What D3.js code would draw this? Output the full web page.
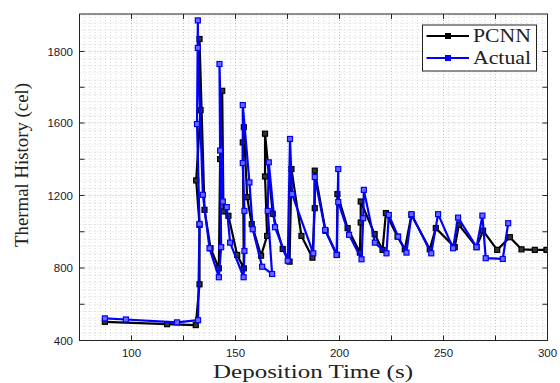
<!DOCTYPE html>
<html><head><meta charset="utf-8">
<script src="https://cdn.jsdelivr.net/npm/d3@7"></script>
<style>html,body{margin:0;padding:0;background:#fff;}svg{display:block;}</style>
</head><body>
<script>
// ---- data ----
const pcnnTime = [87.2,117.1,130.9,132.7,132.7,131.1,133.2,132.7,135.1,138.0,142.0,142.6,143.6,144.2,146.6,150.8,154.0,153.5,154.0,155.6,157.8,162.3,165.2,164.2,164.2,167.9,172.7,176.0,176.9,181.7,187.0,188.1,188.1,193.3,198.8,199.0,203.9,209.8,210.2,210.2,216.9,220.7,222.3,227.9,231.4,234.6,243.4,246.3,255.4,257.4,265.9,269.0,275.8,281.9,287.5,293.9,299.5];
const pcnnTemp = [503,490,485,710,1038,1283,1636,1835,1121,909,798,1401,1690,1112,1088,872,798,1493,1577,1191,1042,868,977,1305,1541,1099,905,835,1346,977,857,1130,1337,1005,872,1208,1020,885,1051,1167,987,900,1103,973,903,1093,903,1020,915,1038,915,1006,900,970,903,900,900];
const actualTime = [87.2,97.3,121.9,132.0,132.7,131.5,131.9,131.9,134.3,137.5,142.0,143.1,142.6,142.3,143.9,145.8,147.4,153.9,154.3,154.3,153.5,153.5,156.7,158.3,162.8,167.6,165.5,166.0,169.0,175.1,176.2,177.2,187.4,188.1,193.1,198.6,199.4,199.4,204.6,210.6,211.4,211.7,217.0,222.6,223.7,228.2,232.2,234.6,244.1,247.4,254.6,257.0,265.9,268.7,270.3,278.5,281.1];
const actualTemp = [522,516,500,512,1043,1594,1887,1810,1204,909,749,915,1448,1765,1167,1136,940,749,894,1115,1379,1650,1272,1014,807,767,1115,1383,1025,840,1512,1208,881,1302,1010,872,1346,1164,983,848,1075,1231,940,881,1093,973,885,1097,881,1097,909,1078,915,1089,854,850,1047];
const seriesNames = ["PCNN","Actual"];
const xTickValues = [100,150,200,250,300];
const xMinorTickValues = [125,175,225,275];
const yTickValues = [400,800,1200,1600,1800];
const yTickLabels = ["400","800","1200","1600","1800"];
const yMinorTickValues = [600,1000,1400,1700];
const xLabel = "Deposition Time (s)";
const yLabel = "Thermal History (cel)";

// ---- layout ----
const W = 560, H = 383;
const L = 79.5, R = 547.5, T = 14, B = 340.5;

const svg = d3.select("body").append("svg").attr("width", W).attr("height", H);

const x = d3.scaleLinear().domain([75, 300]).range([L, R]);
const y = d3.scaleLinear().domain([400, 1600, 1800]).range([B, 123, 51.5]);
const yTop = y.invert(T);

// ---- grid (dotted, MATLAB-style) ----
const grid = svg.append("g");
const gx = d3.range(75, 300.01, 2.5);
grid.selectAll("line.gx").data(gx).join("line")
  .attr("x1", d => x(d)).attr("x2", d => x(d)).attr("y1", T).attr("y2", B)
  .attr("stroke", d => (d % 25 === 0) ? "#b8b8b8" : "#d4d4d4")
  .attr("stroke-width", 0.9).attr("stroke-dasharray", "1,2");
let gy = [];
for (let i = 0; i < yTickValues.length - 1; i++) {
  const a = yTickValues[i], b = yTickValues[i+1];
  for (let k = 0; k < 10; k++) gy.push(a + (b - a) * k / 10);
}
for (let v = 1800; v <= yTop; v += 20) gy.push(v);
grid.selectAll("line.gy").data(gy).join("line")
  .attr("x1", L).attr("x2", R).attr("y1", d => y(d)).attr("y2", d => y(d))
  .attr("stroke", d => yTickValues.includes(d) ? "#b8b8b8" : "#d4d4d4")
  .attr("stroke-width", 0.9).attr("stroke-dasharray", "1,2");

// ---- series ----
const pcnn = pcnnTime.map((t, i) => [t, pcnnTemp[i]]);
const actual = actualTime.map((t, i) => [t, actualTemp[i]]);
const line = d3.line().x(d => x(d[0])).y(d => y(d[1]));
svg.append("clipPath").attr("id", "c").append("rect")
  .attr("x", L).attr("y", T).attr("width", R - L).attr("height", B - T);
const plot = svg.append("g").attr("clip-path", "url(#c)");

function drawSeries(data, color, fill) {
  plot.append("path").datum(data).attr("d", line)
    .attr("fill", "none").attr("stroke", color).attr("stroke-width", 2.2)
    .attr("stroke-linejoin", "round");
  const s = 5;
  plot.append("g").selectAll("rect").data(data).join("rect")
    .attr("x", d => x(d[0]) - s/2).attr("y", d => y(d[1]) - s/2)
    .attr("width", s).attr("height", s)
    .attr("fill", fill).attr("stroke", color).attr("stroke-width", 1.2);
}
drawSeries(pcnn, "#000000", "#333333");
drawSeries(actual, "#0000ff", "#6a6aff");

// ---- frame & ticks (inside) ----
const fr = svg.append("g").attr("stroke", "#222").attr("stroke-width", 1);
fr.append("rect").attr("x", L).attr("y", T).attr("width", R - L).attr("height", B - T).attr("fill", "none");
const tl = 5;
const xt = xTickValues.concat(xMinorTickValues);
fr.selectAll("line.xb").data(xt).join("line").attr("class","xb")
  .attr("x1", d => x(d)).attr("x2", d => x(d)).attr("y1", B).attr("y2", B - tl);
fr.selectAll("line.xt").data(xt).join("line").attr("class","xt")
  .attr("x1", d => x(d)).attr("x2", d => x(d)).attr("y1", T).attr("y2", T + tl);
const yt = yTickValues.concat(yMinorTickValues);
fr.selectAll("line.yl").data(yt).join("line").attr("class","yl")
  .attr("x1", L).attr("x2", L + tl).attr("y1", d => y(d)).attr("y2", d => y(d));
fr.selectAll("line.yr").data(yt).join("line").attr("class","yr")
  .attr("x1", R).attr("x2", R - tl).attr("y1", d => y(d)).attr("y2", d => y(d));

// tick labels
svg.append("g").selectAll("text").data(xTickValues).join("text")
  .attr("x", d => x(d)).attr("y", 357)
  .attr("text-anchor", "middle")
  .attr("font-family", "'Liberation Sans', Arial, sans-serif").attr("font-size", 11.5)
  .attr("fill", "#1a1a2a").text(d => d);
svg.append("g").selectAll("text").data(yTickValues).join("text")
  .attr("x", 73).attr("y", d => y(d) + 4)
  .attr("text-anchor", "end")
  .attr("font-family", "'Liberation Sans', Arial, sans-serif").attr("font-size", 11.5)
  .attr("fill", "#1a1a2a").text((d, i) => yTickLabels[i]);

// axis titles
svg.append("text").attr("x", 313).attr("y", 377.5)
  .attr("text-anchor", "middle")
  .attr("font-family", "'Liberation Serif', 'Times New Roman', serif").attr("font-size", 19)
  .attr("textLength", 200).attr("lengthAdjust", "spacingAndGlyphs")
  .attr("fill", "#222").text(xLabel);
svg.append("text").attr("transform", "translate(28,165) rotate(-90)")
  .attr("text-anchor", "middle")
  .attr("font-family", "'Liberation Serif', 'Times New Roman', serif").attr("font-size", 18)
  .attr("textLength", 164).attr("lengthAdjust", "spacingAndGlyphs")
  .attr("fill", "#222").text(yLabel);

// ---- legend ----
const lg = svg.append("g");
lg.append("rect").attr("x", 422.5).attr("y", 25).attr("width", 114).attr("height", 46)
  .attr("fill", "#fff").attr("stroke", "#222").attr("stroke-width", 1);
const legendItems = [
  {name: seriesNames[0], color: "#000000", fill: "#000000", y: 36},
  {name: seriesNames[1], color: "#0000ff", fill: "#0000ff", y: 58}
];
legendItems.forEach(it => {
  lg.append("line").attr("x1", 426.5).attr("x2", 469).attr("y1", it.y).attr("y2", it.y)
    .attr("stroke", it.color).attr("stroke-width", 2);
  lg.append("rect").attr("x", 448 - 2.5).attr("y", it.y - 2.5).attr("width", 5).attr("height", 5)
    .attr("fill", it.fill).attr("stroke", it.color);
  lg.append("text").attr("x", 473).attr("y", it.y + 6)
    .attr("font-family", "'Liberation Serif', 'Times New Roman', serif").attr("font-size", 18)
    .attr("textLength", 58).attr("lengthAdjust", "spacingAndGlyphs")
    .attr("fill", "#222").text(it.name);
});
</script>
</body></html>
